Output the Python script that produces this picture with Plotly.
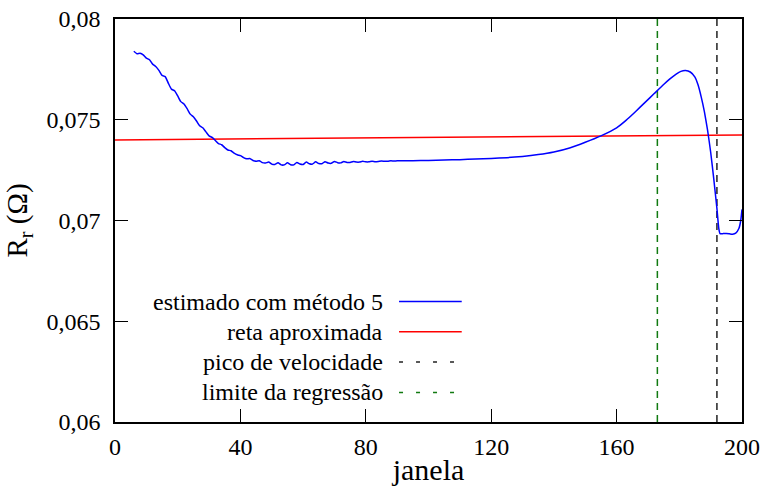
import plotly.graph_objects as go

# Estimated rotor resistance per window (method 5)
janela = [6, 7, 8, 9, 10, 11, 12, 13, 14, 15, 16, 17, 18, 19, 20, 21, 22, 23, 24, 25,
          26, 27, 28, 29, 30, 31, 32, 33, 34, 35, 36, 37, 38, 39, 40, 41, 42, 43, 44, 45,
          46, 47, 48, 49, 50, 51, 52, 53, 54, 55, 56, 57, 58, 59, 60, 61, 62, 63, 64, 65,
          66, 67, 68, 69, 70, 71, 72, 73, 74, 75, 76, 77, 78, 79, 80, 81, 82, 83, 84, 85,
          86, 87, 88, 89, 90, 95, 100, 105, 110, 115, 120, 125, 130, 135, 140, 145, 150,
          155, 160, 163, 166, 169, 172, 175, 177, 179, 180.5, 182, 183.5, 185, 186, 187,
          188, 189, 190, 191, 192, 192.6, 193, 194, 195, 196, 197, 198, 199, 199.6, 200]
rr_est = [0.07840, 0.07828, 0.07830, 0.07822, 0.07806, 0.07798, 0.07776, 0.07764, 0.07745, 0.07720,
          0.07714, 0.07682, 0.07652, 0.07644, 0.07618, 0.07590, 0.07578, 0.07555, 0.07528, 0.07515,
          0.07494, 0.07470, 0.07460, 0.07440, 0.07420, 0.07412, 0.07397, 0.07382, 0.07376, 0.07362,
          0.07350, 0.07346, 0.07334, 0.07326, 0.07322, 0.07312, 0.07306, 0.07308, 0.07298, 0.07294,
          0.07297, 0.07287, 0.07285, 0.07290, 0.07280, 0.07278, 0.07286, 0.07276, 0.07276, 0.07286,
          0.07277, 0.07276, 0.07288, 0.07280, 0.07278, 0.07290, 0.07282, 0.07280, 0.07291, 0.07283,
          0.07282, 0.07292, 0.07285, 0.07284, 0.07293, 0.07287, 0.07286, 0.07293, 0.07288, 0.07288,
          0.07293, 0.07290, 0.07290, 0.07294, 0.07291, 0.07291, 0.07294, 0.07292, 0.07293, 0.07295,
          0.07294, 0.07294, 0.07296, 0.07295, 0.07296, 0.07297, 0.07298, 0.07300, 0.07302, 0.07305,
          0.07308, 0.07312, 0.07318, 0.07327, 0.07340, 0.07360, 0.07388, 0.07420, 0.07460, 0.07497,
          0.07540, 0.07585, 0.07630, 0.07675, 0.07703, 0.07727, 0.07740, 0.07744, 0.07737, 0.07712,
          0.07672, 0.07612, 0.07540, 0.07450, 0.07340, 0.07205, 0.07060, 0.06960, 0.06935, 0.06935,
          0.06936, 0.06934, 0.06932, 0.06937, 0.06960, 0.07000, 0.07055]

# Fitted regression line
reta_x = [0, 200]
reta_y = [0.07400, 0.07424]

# Reference windows
pico_velocidade = 192
limite_regressao = 173
y_range = [0.06, 0.08]

x_ticks = [0, 40, 80, 120, 160, 200]
y_ticks = [0.06, 0.065, 0.07, 0.075, 0.08]
y_tick_text = ["0,06", "0,065", "0,07", "0,075", "0,08"]

legend_labels = ["estimado com método 5", "reta aproximada", "pico de velocidade", "limite da regressão"]

BLUE = "#0000ff"
RED = "#ff0000"
BLACK = "#222222"
GREEN = "#117a11"
FONT = "Liberation Serif, Times New Roman, serif"

fig = go.Figure()
fig.add_trace(go.Scatter(x=[limite_regressao] * 2, y=y_range, mode="lines",
                         line=dict(color=GREEN, width=1.5, dash="7px,5px")))
fig.add_trace(go.Scatter(x=[pico_velocidade] * 2, y=y_range, mode="lines",
                         line=dict(color=BLACK, width=1.5, dash="7px,5px")))
fig.add_trace(go.Scatter(x=reta_x, y=reta_y, mode="lines",
                         line=dict(color=RED, width=1.5)))
fig.add_trace(go.Scatter(x=janela, y=rr_est, mode="lines",
                         line=dict(color=BLUE, width=1.5, shape="spline", smoothing=0.5)))

# Key: right-aligned labels followed by line samples
key_styles = [(BLUE, "solid"), (RED, "solid"), (BLACK, "4px,13px"), (GREEN, "4px,13px")]
row_top = 0.299
row_step = 0.0752
for i, (label, (col, dash)) in enumerate(zip(legend_labels, key_styles)):
    yy = row_top - i * row_step
    fig.add_annotation(x=0.4306, y=yy, xref="paper", yref="paper", text=label,
                       showarrow=False, xanchor="right", yanchor="middle",
                       font=dict(family=FONT, size=24, color="black"))
    fig.add_shape(type="line", xref="paper", yref="paper", x0=0.453, x1=0.553,
                  y0=yy, y1=yy, line=dict(color=col, width=1.5, dash=dash))

axis_common = dict(showline=True, linecolor="black", linewidth=1.5, mirror="ticks",
                   ticks="inside", ticklen=13, tickwidth=1.2, tickcolor="black",
                   showgrid=False, zeroline=False, automargin=False,
                   tickfont=dict(family=FONT, size=24, color="black"))

fig.update_layout(
    width=764, height=486,
    margin=dict(l=115, r=22, t=19, b=64),
    plot_bgcolor="white", paper_bgcolor="white",
    showlegend=False,
    font=dict(family=FONT),
    xaxis=dict(range=[0, 200], tickvals=x_ticks, ticklabelstandoff=2,
               title=dict(text="janela", font=dict(family=FONT, size=30, color="black"), standoff=0),
               **axis_common),
    yaxis=dict(range=y_range, tickvals=y_ticks, ticktext=y_tick_text, ticklabelstandoff=8,
               title=dict(text="R<sub>r</sub> (Ω)", font=dict(family=FONT, size=29, color="black"), standoff=10),
               **axis_common),
)

fig.write_html("out.html")
